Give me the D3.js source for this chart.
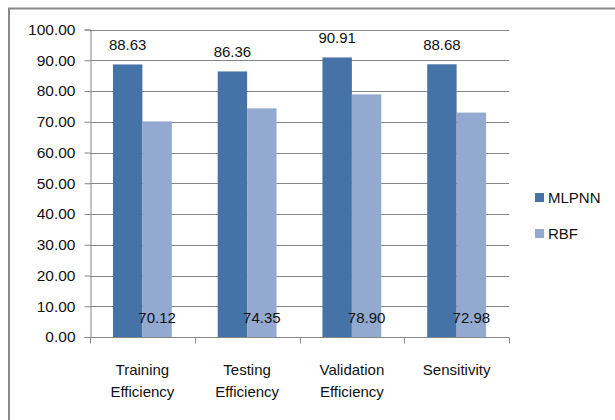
<!DOCTYPE html>
<html>
<head>
<meta charset="utf-8">
<script src="https://cdn.jsdelivr.net/npm/d3@7/dist/d3.min.js"></script>
<style>
  html, body { margin: 0; padding: 0; background: #fff; }
  svg { display: block; }
  text { font-family: "Liberation Sans", Arial, sans-serif; fill: #111; }
</style>
</head>
<body>
<svg id="chart" width="615" height="420"></svg>
<script>
// Classifier performance (%) per metric
const categories = [["Training", "Efficiency"], ["Testing", "Efficiency"], ["Validation", "Efficiency"], ["Sensitivity"]];
const seriesNames = ["MLPNN", "RBF"];
const mlpnnValues = [88.63, 86.36, 90.91, 88.68];
const rbfValues = [70.12, 74.35, 78.90, 72.98];
const yTicks = [0, 10, 20, 30, 40, 50, 60, 70, 80, 90, 100];
const colors = ["#4572A7", "#93A9CF"];

const svg = d3.select("#chart");

// outer frame
svg.append("path")
  .attr("d", "M9,420 V8.5 H615")
  .attr("fill", "none")
  .attr("stroke", "#8a8a8a")
  .attr("stroke-width", 2);

const plot = { left: 90, right: 509, top: 29.5, bottom: 337 };

const x = d3.scaleBand()
  .domain(d3.range(categories.length))
  .range([plot.left, plot.right])
  .paddingInner(0).paddingOuter(0);

const x1 = d3.scaleBand()
  .domain(seriesNames)
  .range([0, x.bandwidth()])
  .paddingOuter(0.78).paddingInner(0);

const y = d3.scaleLinear().domain([0, 100]).range([plot.bottom, plot.top]);

// gridlines
svg.append("g")
  .selectAll("line")
  .data(yTicks.filter(d => d > 0))
  .join("line")
  .attr("x1", plot.left).attr("x2", plot.right)
  .attr("y1", d => Math.round(y(d)) + 0.5).attr("y2", d => Math.round(y(d)) + 0.5)
  .attr("stroke", "#868686").attr("stroke-width", 1);

// y axis
const yAxis = d3.axisLeft(y).tickValues(yTicks).tickFormat(d3.format(".2f")).tickSize(6).tickPadding(9);
const gy = svg.append("g").attr("transform", `translate(${plot.left + 0.5},0)`).call(yAxis);
gy.select(".domain").attr("stroke", "#868686");
gy.selectAll(".tick line").attr("stroke", "#868686");
gy.selectAll(".tick text").attr("font-size", 15.5).attr("fill", "#111")
  .attr("font-family", "'Liberation Sans', Arial, sans-serif");

// bars
const groups = svg.append("g")
  .selectAll("g")
  .data(categories.map((c, i) => ({ i, vals: [mlpnnValues[i], rbfValues[i]] })))
  .join("g")
  .attr("transform", d => `translate(${x(d.i)},0)`);

groups.selectAll("rect")
  .data(d => d.vals.map((v, k) => ({ k, v })))
  .join("rect")
  .attr("x", d => x1(seriesNames[d.k]))
  .attr("width", x1.bandwidth())
  .attr("y", d => y(d.v))
  .attr("height", d => y(0) - y(d.v))
  .attr("fill", d => colors[d.k]);

// x axis
const xAxisY = Math.round(y(0)) + 0.5;
svg.append("line")
  .attr("x1", plot.left).attr("x2", plot.right)
  .attr("y1", xAxisY).attr("y2", xAxisY)
  .attr("stroke", "#868686");
svg.append("g")
  .selectAll("line")
  .data(d3.range(categories.length + 1))
  .join("line")
  .attr("x1", i => Math.round(plot.left + i * x.bandwidth()) + 0.5)
  .attr("x2", i => Math.round(plot.left + i * x.bandwidth()) + 0.5)
  .attr("y1", xAxisY).attr("y2", xAxisY + 6)
  .attr("stroke", "#868686");

// category labels
const catLabels = svg.append("g")
  .selectAll("text")
  .data(categories.map((c, i) => ({ c, i })))
  .join("text")
  .attr("text-anchor", "middle")
  .attr("font-size", 15)
  .attr("x", d => x(d.i) + x.bandwidth() / 2)
  .attr("y", 375);
catLabels.selectAll("tspan")
  .data(d => d.c.map((line, k) => ({ line, k, cx: x(d.i) + x.bandwidth() / 2 })))
  .join("tspan")
  .attr("x", d => d.cx)
  .attr("dy", d => d.k === 0 ? 0 : 22)
  .text(d => d.line);

// value labels: MLPNN above its bar, RBF at the base of its bar
groups.append("text")
  .attr("text-anchor", "middle")
  .attr("font-size", 15)
  .attr("x", x1("MLPNN") + x1.bandwidth() / 2)
  .attr("y", d => y(d.vals[0]) - 14)
  .text(d => d.vals[0].toFixed(2));

groups.append("text")
  .attr("text-anchor", "middle")
  .attr("font-size", 15)
  .attr("x", x1("RBF") + x1.bandwidth() / 2)
  .attr("y", y(0) - 14)
  .text(d => d.vals[1].toFixed(2));

// legend
const legend = svg.append("g")
  .selectAll("g")
  .data(seriesNames)
  .join("g")
  .attr("transform", (d, i) => `translate(535,${193 + i * 36})`);
legend.append("rect")
  .attr("width", 9).attr("height", 9)
  .attr("fill", (d, i) => colors[i]);
legend.append("text")
  .attr("x", 13).attr("y", 10)
  .attr("font-size", 15)
  .text(d => d);
</script>
</body>
</html>
